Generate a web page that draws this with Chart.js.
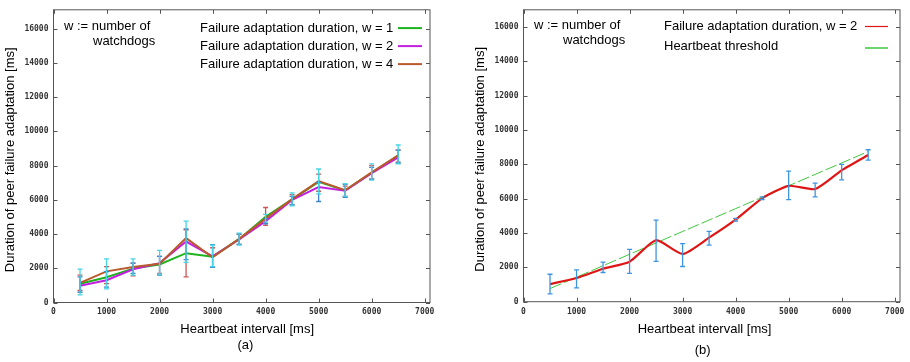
<!DOCTYPE html>
<html><head><meta charset="utf-8">
<script src="https://cdn.jsdelivr.net/npm/chart.js@4.4.1/dist/chart.umd.min.js"></script>
<style>
html,body{margin:0;padding:0;background:#fff;width:910px;height:362px;overflow:hidden}
.wrap{position:absolute;top:0;height:362px}
#wa{left:0;width:460px}
#wb{left:460px;width:450px}
canvas{display:block}
</style></head><body>
<div class="wrap" id="wa"><canvas id="ca"></canvas></div>
<div class="wrap" id="wb"><canvas id="cb"></canvas></div>
<script>
// ---- data ----
const intervals = [500,1000,1500,2000,2500,3000,3500,4000,4500,5000,5500,6000,6500];
const xTicks = [0,1000,2000,3000,4000,5000,6000,7000];
const yTicks = [0,2000,4000,6000,8000,10000,12000,14000,16000];

// panel (a)
const durW1 = [1100,1480,1980,2220,2880,2680,3700,5000,6020,7050,6550,7580,8580];
const durW2 = [ 980,1300,1940,2300,3560,2690,3680,4750,5990,6740,6530,7560,8480];
const durW4 = [1150,1820,2070,2260,3760,2640,3720,4900,6040,7090,6560,7600,8590];
const errW1Low  = [ 450, 800,1600,1650,2350,2100,3350,4700,5650,6350,6200,7150,8100];
const errW1High = [1950,2550,2550,3050,4750,3350,4050,5150,6400,7800,6950,8100,9200];
const errW2Low  = [ 600, 900,1700,1600,2500,2050,3400,4600,5700,5900,6150,7200,8150];
const errW2High = [1500,1800,2300,2700,4300,3380,4000,4900,6200,7000,6900,7900,8900];
const errW4Low  = [ 700,1100,1550,1700,1500,2050,3400,4500,5700,6500,6200,7200,8200];
const errW4High = [1600,2100,2300,2700,4250,3200,4000,5550,6300,7500,6800,8000,8900];

// panel (b)
const durB = [1030,1380,1920,2330,3580,2780,3730,4780,6020,6750,6560,7650,8540];
const thresholdB = [765,1430,2095,2760,3425,4090,4755,5420,6085,6750,7415,8080,8745];
const errBLow  = [ 450, 800,1700,1650,2350,2050,3300,4700,5950,5950,6100,7100,8250];
const errBHigh = [1600,1850,2300,3050,4750,3380,4100,4850,6100,7600,6900,8000,8850];

const noteLines = ['w := number of', 'watchdogs'];

// ---- helpers ----
const pts = arr => intervals.map((x, i) => ({x, y: arr[i]}));
const SANS = "'Liberation Sans', Arial, sans-serif";
Chart.defaults.font.family = SANS;
Chart.defaults.color = '#000';

const frame = {
  id: 'frame',
  beforeDatasetsDraw(chart) {
    const {ctx, chartArea: a, scales: {x, y}} = chart;
    ctx.save();
    ctx.strokeStyle = '#555';
    ctx.lineWidth = 1;
    ctx.strokeRect(a.left, a.top, a.right - a.left, a.bottom - a.top);
    ctx.beginPath();
    const L = 4;
    x.ticks.forEach(t => {
      const px = Math.round(x.getPixelForValue(t.value)) + 0.5;
      ctx.moveTo(px, a.bottom); ctx.lineTo(px, a.bottom - L);
      ctx.moveTo(px, a.top); ctx.lineTo(px, a.top + L);
    });
    y.ticks.forEach(t => {
      const py = Math.round(y.getPixelForValue(t.value)) + 0.5;
      ctx.moveTo(a.left, py); ctx.lineTo(a.left + L, py);
      ctx.moveTo(a.right, py); ctx.lineTo(a.right - L, py);
    });
    ctx.stroke();
    ctx.restore();
  }
};

const errbars = {
  id: 'errbars',
  afterDatasetsDraw(chart, args, opts) {
    const {ctx, scales: {x, y}} = chart;
    ctx.save();
    ctx.lineWidth = 1.3;
    for (const s of opts.sets) {
      ctx.strokeStyle = s.color;
      ctx.beginPath();
      s.low.forEach((lo, i) => {
        const px = x.getPixelForValue(intervals[i]);
        const p1 = y.getPixelForValue(lo), p2 = y.getPixelForValue(s.high[i]);
        ctx.moveTo(px, p1); ctx.lineTo(px, p2);
        ctx.moveTo(px - 2.5, p1); ctx.lineTo(px + 2.5, p1);
        ctx.moveTo(px - 2.5, p2); ctx.lineTo(px + 2.5, p2);
      });
      ctx.stroke();
    }
    ctx.restore();
  }
};

const gpLegend = {
  id: 'gpLegend',
  afterDraw(chart, args, o) {
    const {ctx, chartArea: a} = chart;
    ctx.save();
    ctx.font = '13px ' + SANS;
    ctx.fillStyle = '#000';
    ctx.textBaseline = 'middle';
    ctx.textAlign = 'left';
    ctx.fillText(noteLines[0], a.left + o.noteX, a.top + o.noteY);
    ctx.fillText(noteLines[1], a.left + o.noteX2, a.top + o.noteY + o.noteGap);
    chart.data.datasets.forEach((ds, r) => {
      const yy = a.top + o.y0 + r * o.gap;
      ctx.fillStyle = '#000';
      ctx.fillText(ds.label, a.left + o.textX, yy);
      ctx.strokeStyle = ds.borderColor;
      ctx.lineWidth = ds.legendWidth || 2;
      ctx.beginPath();
      const ly = yy + (ds.legendDy || 0);
      ctx.moveTo(a.left + o.lineX0, ly); ctx.lineTo(a.left + o.lineX1, ly);
      ctx.stroke();
    });
    ctx.restore();
  }
};

function scales(xmax, ymax, xh, yw, xTitle, titleLH, titlePB, yTitlePad) {
  const tickFont = {family: "'DejaVu Sans Mono', monospace", size: 8, weight: 'bold'};
  return {
    x: {
      type: 'linear', min: 0, max: xmax,
      afterBuildTicks: s => { s.ticks = xTicks.map(v => ({value: v})); },
      afterFit: s => { s.height = xh; },
      grid: {display: false, drawTicks: false},
      border: {display: false},
      ticks: {padding: 5, autoSkip: false, maxRotation: 0, font: tickFont, color: '#333', callback: v => String(v)},
      title: {display: true, text: xTitle, color: '#000', font: {size: 13, lineHeight: titleLH}, padding: {top: 0, bottom: titlePB}}
    },
    y: {
      min: 0, max: ymax,
      afterBuildTicks: s => { s.ticks = yTicks.map(v => ({value: v})); },
      afterFit: s => { s.width = yw; },
      grid: {display: false, drawTicks: false},
      border: {display: false},
      ticks: {padding: 5, autoSkip: false, font: tickFont, color: '#333', callback: v => String(v)},
      title: {display: true, text: 'Duration of peer failure adaptation [ms]  ', color: '#000', font: {size: 13}, padding: {top: yTitlePad, bottom: 0}}
    }
  };
}

new Chart(document.getElementById('ca'), {
  type: 'line',
  data: {
    datasets: [
      {label: 'Failure adaptation duration, w = 1', data: pts(durW1), borderColor: '#1db31d', borderWidth: 2, pointRadius: 0, tension: 0, order: 2},
      {label: 'Failure adaptation duration, w = 2', data: pts(durW2), borderColor: '#c41fe0', borderWidth: 2, pointRadius: 0, tension: 0, order: 1},
      {label: 'Failure adaptation duration, w = 4', data: pts(durW4), borderColor: '#b85a2c', borderWidth: 2, pointRadius: 0, tension: 0, order: 0}
    ]
  },
  options: {
    responsive: true, maintainAspectRatio: false, animation: false, devicePixelRatio: 1,
    layout: {padding: {left: 0, right: 30, top: 5, bottom: 0}},
    scales: scales(7100, 17100, 59.5, 53.5, ['   Heartbeat intervall [ms]', '  (a)'], 16.7 / 13, 8, 3),
    plugins: {
      legend: {display: false}, tooltip: {enabled: false},
      errbars: {sets: [
        {low: errW4Low, high: errW4High, color: '#d05555'},
        {low: errW2Low, high: errW2High, color: '#3d86cc'},
        {low: errW1Low, high: errW1High, color: '#45d5e5'}
      ]},
      gpLegend: {noteX: 10.5, noteX2: 39.5, noteY: 16.7, noteGap: 15, textX: 146.5, y0: 18.3, gap: 18, lineX0: 344.5, lineX1: 368.5}
    }
  },
  plugins: [frame, errbars, gpLegend]
});

new Chart(document.getElementById('cb'), {
  type: 'line',
  data: {
    datasets: [
      {label: 'Failure adaptation duration, w = 2', data: pts(durB), borderColor: '#e01515', borderWidth: 2.2, pointRadius: 0, tension: 0.2, order: 0, legendWidth: 1.2},
      {label: 'Heartbeat threshold', data: pts(thresholdB), borderColor: '#3cc83c', borderWidth: 1, borderDash: [12, 3], pointRadius: 0, tension: 0, order: 1, legendWidth: 1.5, legendDy: 1.5}
    ]
  },
  options: {
    responsive: true, maintainAspectRatio: false, animation: false, devicePixelRatio: 1,
    layout: {padding: {left: 0, right: 10, top: 5, bottom: 0}},
    scales: scales(7100, 17000, 60.3, 63.5, ['Heartbeat intervall [ms]    ', '(b)     '], 21 / 13, 1, 12.6),
    plugins: {
      legend: {display: false}, tooltip: {enabled: false},
      errbars: {sets: [
        {low: errBLow, high: errBHigh, color: '#3f95dd'}
      ]},
      gpLegend: {noteX: 10.5, noteX2: 39.5, noteY: 16, noteGap: 15, textX: 140.5, y0: 16.7, gap: 20, lineX0: 341.5, lineX1: 364.5}
    }
  },
  plugins: [frame, errbars, gpLegend]
});
</script>
</body></html>
